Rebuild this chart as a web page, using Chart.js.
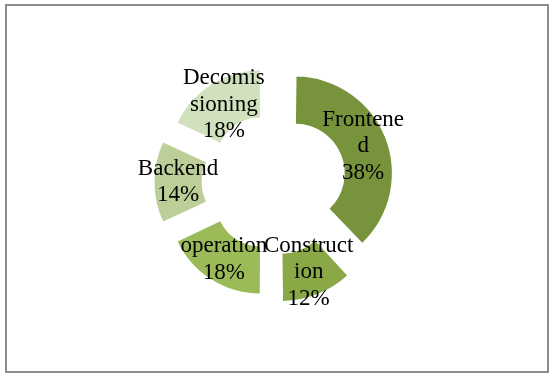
<!DOCTYPE html>
<html>
<head>
<meta charset="utf-8">
<script src="https://cdn.jsdelivr.net/npm/chart.js@4"></script>
<style>
  html, body { margin: 0; padding: 0; background: #fff; }
  #frame {
    position: absolute; left: 5px; top: 4px;
    width: 540px; height: 365px;
    border: 2px solid #8c8c8c;
  }
  #wrap { position: absolute; left: 0; top: 0; width: 549px; height: 374px; }
</style>
</head>
<body>
<div id="frame"></div>
<div id="wrap"><canvas id="myChart"></canvas></div>
<script>
// phases of the project, share of effort in %
const categories = ['Frontened', 'Construction', 'operation', 'Backend', 'Decomissioning'];
const shares = [38, 12, 18, 14, 18];
// how the labels wrap inside the slices (as in the original)
const labelLines = [['Frontene', 'd'], ['Construct', 'ion'], ['operation'], ['Backend'], ['Decomis', 'sioning']];
const sliceColors = ['#77933c', '#88a946', '#9bbb59', '#bccf98', '#d1e0bd'];

// draws the labels in the middle of every (exploded) slice
// (arc.draw moves a slice by offset/4 and pushes its radius out a bit, same here)
const sliceLabels = {
    id: 'sliceLabels',
    afterDatasetsDraw(chart) {
        const ctx = chart.ctx;
        const meta = chart.getDatasetMeta(0);
        ctx.save();
        ctx.font = '23px "Liberation Serif", "Times New Roman", serif';
        ctx.fillStyle = '#000';
        ctx.textAlign = 'center';
        ctx.textBaseline = 'middle';
        meta.data.forEach((arc, i) => {
            const p = arc.getProps(['x', 'y', 'startAngle', 'endAngle', 'innerRadius', 'outerRadius', 'circumference']);
            const mid = (p.startAngle + p.endAngle) / 2;
            const t = arc.options.offset / 4;
            const fix = 1 - Math.sin(Math.min(Math.PI, p.circumference));
            const r = t + t * fix + (p.innerRadius + p.outerRadius) / 2;
            const x = p.x + Math.cos(mid) * r;
            const y = p.y + Math.sin(mid) * r;
            const lines = labelLines[i].concat([shares[i] + '%']);
            const lh = 26.5;
            lines.forEach((txt, k) => {
                ctx.fillText(txt, x, y + (k - (lines.length - 1) / 2) * lh);
            });
        });
        ctx.restore();
    }
};

const ctx = document.getElementById('myChart').getContext('2d');
const myChart = new Chart(ctx, {
    type: 'doughnut',
    data: {
        labels: categories,
        datasets: [{
            data: shares,
            backgroundColor: sliceColors,
            borderWidth: 0,
            offset: 96,
        }]
    },
    options: {
        responsive: true,
        maintainAspectRatio: false,
        animation: false,
        radius: 89,
        cutout: '47%',
        layout: { padding: { top: 0, bottom: 10, left: 0, right: 3 } },
        plugins: {
            legend: { display: false },
            tooltip: { enabled: false },
        },
    },
    plugins: [sliceLabels]
});
</script>
</body>
</html>
